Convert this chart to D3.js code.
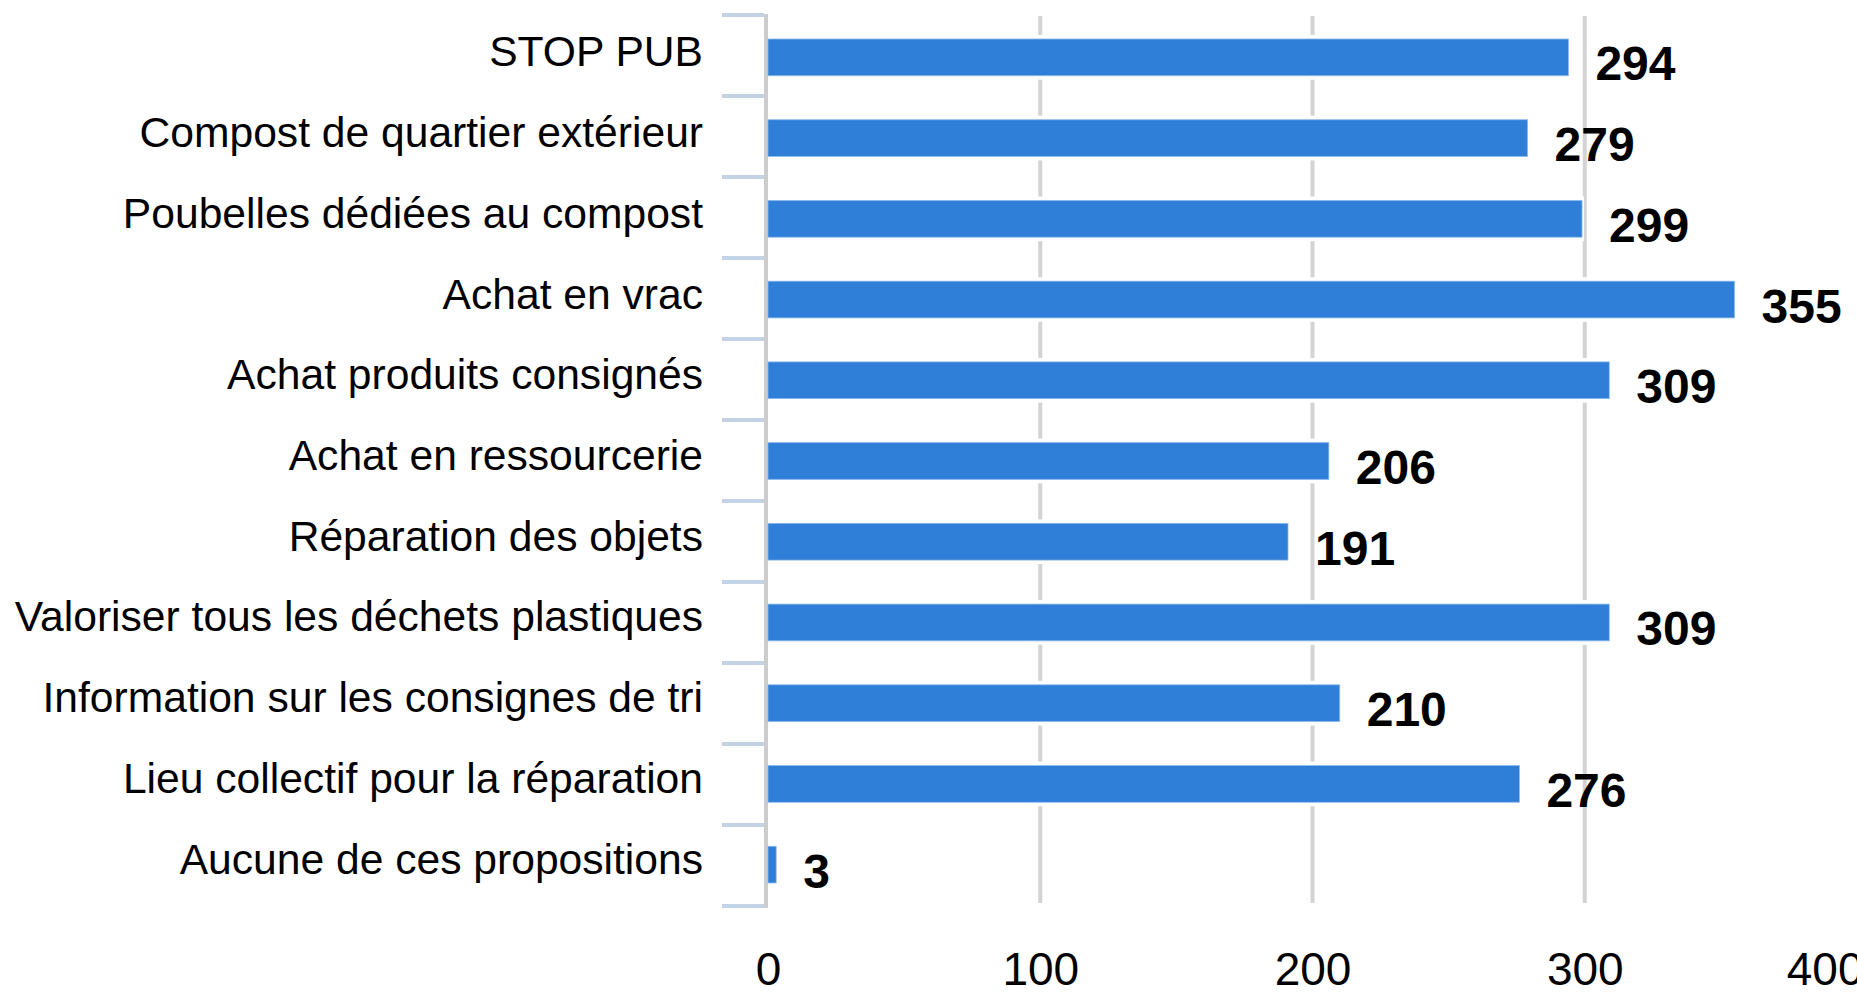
<!DOCTYPE html>
<html>
<head>
<meta charset="utf-8">
<script src="https://cdnjs.cloudflare.com/ajax/libs/d3/7.8.5/d3.min.js"></script>
<style>
  body { margin: 0; background: #fff; }
  svg { display: block; font-family: "Liberation Sans", Arial, sans-serif; }
</style>
</head>
<body>
<div class="chart"></div>
<script>
// Chart data
var categories = [
  "STOP PUB",
  "Compost de quartier extérieur",
  "Poubelles dédiées au compost",
  "Achat en vrac",
  "Achat produits consignés",
  "Achat en ressourcerie",
  "Réparation des objets",
  "Valoriser tous les déchets plastiques",
  "Information sur les consignes de tri",
  "Lieu collectif pour la réparation",
  "Aucune de ces propositions"
];
var values = [294, 279, 299, 355, 309, 206, 191, 309, 210, 276, 3];
var xTicks = [0, 100, 200, 300, 400];
var gridTicks = [100, 200, 300];

var svgWidth = 1857;
var svgHeight = 995;

var svg = d3.select(".chart")
  .append("svg")
  .attr("width", svgWidth)
  .attr("height", svgHeight);

// Scales
var xScale = d3.scaleLinear()
  .domain([0, 400])
  .range([768, 1857]);

var yScale = d3.scaleBand()
  .domain(categories)
  .range([17, 905])
  .paddingInner(0.545)
  .paddingOuter(0.2725);

var rowScale = d3.scaleBand()
  .domain(categories)
  .range([15, 906]);

var data = categories.map(function(c, i) {
  return { label: c, value: values[i] };
});

// Vertical gridlines
svg.append("g")
  .selectAll("line")
  .data(gridTicks)
  .enter()
  .append("line")
  .attr("x1", d => xScale(d))
  .attr("x2", d => xScale(d))
  .attr("y1", 16)
  .attr("y2", 903)
  .attr("stroke", "#d3d3d3")
  .attr("stroke-width", 4);

// Left axis line
svg.append("line")
  .attr("x1", xScale(0) - 2)
  .attr("x2", xScale(0) - 2)
  .attr("y1", 14)
  .attr("y2", 908)
  .attr("stroke", "#cccccc")
  .attr("stroke-width", 4);

// Category tick marks on band boundaries
var boundaries = categories.map(c => rowScale(c)).concat([rowScale.range()[1]]);
svg.append("g")
  .selectAll("line")
  .data(boundaries)
  .enter()
  .append("line")
  .attr("x1", 722)
  .attr("x2", xScale(0) - 4)
  .attr("y1", d => d)
  .attr("y2", d => d)
  .attr("stroke", "#c3d2e4")
  .attr("stroke-width", 4);

// White halo behind bars (interrupts gridlines)
svg.append("g")
  .selectAll("rect")
  .data(data)
  .enter()
  .append("rect")
  .attr("x", xScale(0))
  .attr("y", d => yScale(d.label) - 4)
  .attr("width", d => xScale(d.value) - xScale(0) + 2)
  .attr("height", yScale.bandwidth() + 8)
  .attr("fill", "#ffffff");

// Bars
svg.append("g")
  .selectAll("rect")
  .data(data)
  .enter()
  .append("rect")
  .attr("x", xScale(0))
  .attr("y", d => yScale(d.label))
  .attr("width", d => Math.max(4, xScale(d.value) - xScale(0)))
  .attr("height", yScale.bandwidth())
  .attr("fill", "#2f7ed8")
  .attr("stroke", "#8db8ea")
  .attr("stroke-width", 0.8);

// Value labels
svg.append("g")
  .selectAll("text")
  .data(data)
  .enter()
  .append("text")
  .attr("x", d => Math.max(xScale(d.value), xScale(0) + 8) + 27)
  .attr("y", d => yScale(d.label) + yScale.bandwidth() / 2 + 23)
  .attr("font-size", "48px")
  .attr("font-weight", "bold")
  .attr("fill", "#000")
  .text(d => d.value);

// Category labels
svg.append("g")
  .selectAll("text")
  .data(data)
  .enter()
  .append("text")
  .attr("x", 703)
  .attr("y", d => yScale(d.label) + yScale.bandwidth() / 2 + 9)
  .attr("text-anchor", "end")
  .attr("font-size", "42.6px")
  .attr("fill", "#000")
  .text(d => d.label);

// X axis tick labels
var xAxis = d3.axisBottom(xScale)
  .tickValues(xTicks)
  .tickSize(0)
  .tickPadding(0);

var xAxisGroup = svg.append("g")
  .attr("transform", "translate(0, 952)")
  .call(xAxis);

xAxisGroup.select(".domain").remove();
xAxisGroup.selectAll("text")
  .attr("font-size", "46px")
  .attr("font-family", "Liberation Sans, Arial, sans-serif")
  .attr("fill", "#000")
  .attr("dy", "0.71em")
  .attr("dx", function() {
    // keep the last label inside the chart area, like the original
    var w = this.getComputedTextLength();
    var x = xScale(this.__data__);
    var right = 1863;
    return (x + w / 2 > right) ? (right - w / 2 - x) : 0;
  });
</script>
</body>
</html>
